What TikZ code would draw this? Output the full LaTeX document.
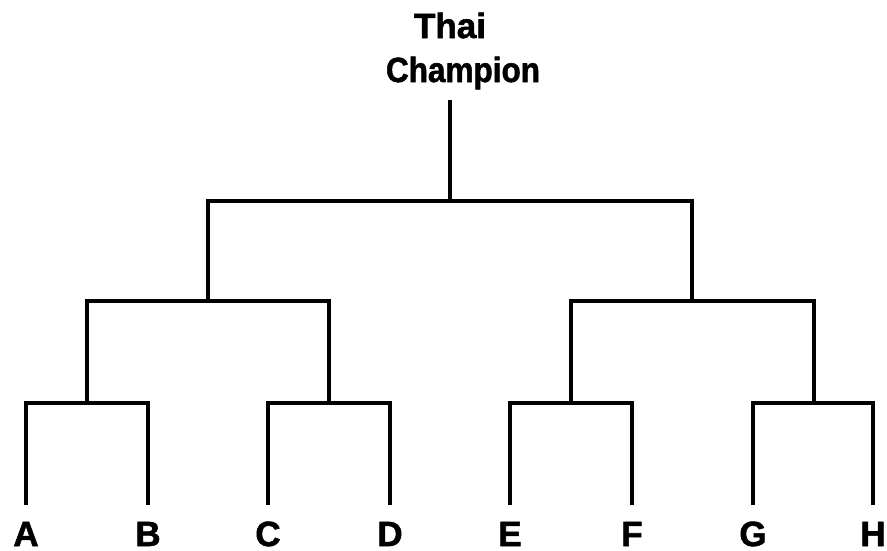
\documentclass[tikz,border=0pt]{standalone}
\usepackage{fontspec}
\setmainfont{Liberation Sans}[BoldFeatures={FakeBold=1.6}]
\begin{document}
\begin{tikzpicture}[x=1pt,y=-1pt,
  line width=3.3pt,
  leaf/.style={inner sep=0pt,anchor=base,font=\fontsize{35}{40}\selectfont\bfseries},
  title/.style={inner sep=0pt,anchor=base,font=\fontsize{35}{40}\selectfont\bfseries},
  br/.style={draw=black,line cap=rect,line join=miter}]
\useasboundingbox (0,0) rectangle (887,550);
% leaves
\foreach \n/\x in {A/26,B/148,C/268,D/390,E/510,F/632,G/753,H/873}{
  \node[leaf] (\n) at (\x,546) {\n};
  \coordinate (t\n) at (\x,503);
}
\node[title] (thai) at (450,38) {Thai};
\node[title] (champ) at (463,82) {\scalebox{0.9}[1]{Champion}};
% junction coordinates
\coordinate (AB) at (87,403);
\coordinate (CD) at (329,403);
\coordinate (EF) at (571,403);
\coordinate (GH) at (814,403);
\coordinate (ABCD) at (208,301);
\coordinate (EFGH) at (692,301);
\coordinate (final) at (450,201);
\coordinate (top) at (450,102);
% brackets
\draw[br] (tA) |- (AB) -| (tB);
\draw[br] (tC) |- (CD) -| (tD);
\draw[br] (tE) |- (EF) -| (tF);
\draw[br] (tG) |- (GH) -| (tH);
\draw[br] (AB) |- (ABCD) -| (CD);
\draw[br] (EF) |- (EFGH) -| (GH);
\draw[br] (ABCD) |- (final) -| (EFGH);
\draw[br] (final) -- (top);
\end{tikzpicture}
\end{document}
